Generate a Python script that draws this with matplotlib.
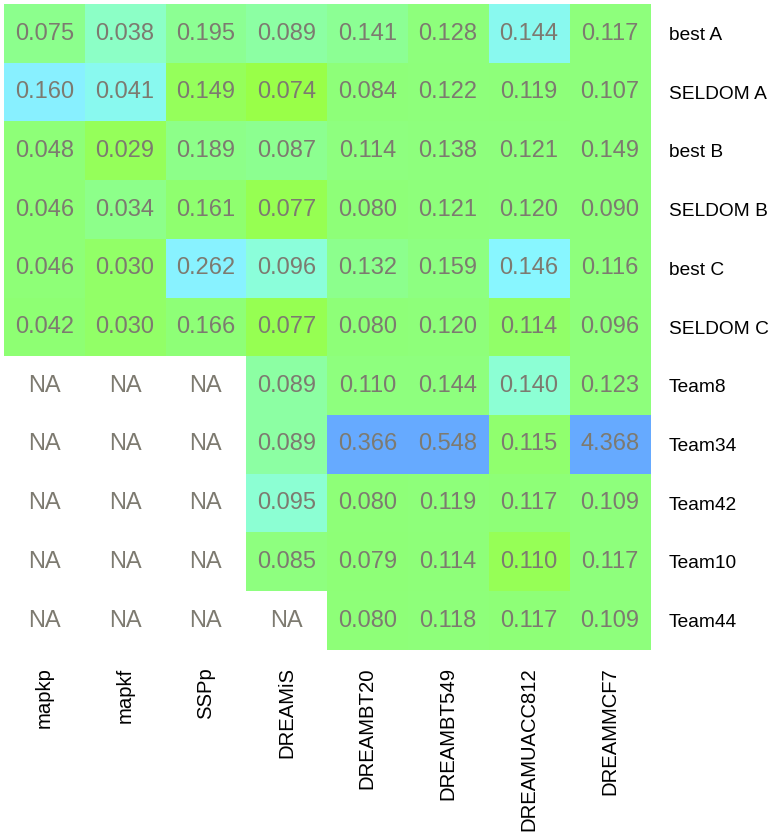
import numpy as np
import matplotlib
matplotlib.use("Agg")
import matplotlib.pyplot as plt
from matplotlib.colors import LinearSegmentedColormap

# Column and row names
cols = ["mapkp", "mapkf", "SSPp", "DREAMiS", "DREAMBT20", "DREAMBT549",
        "DREAMUACC812", "DREAMMCF7"]
rows = ["best A", "SELDOM A", "best B", "SELDOM B", "best C", "SELDOM C",
        "Team8", "Team34", "Team42", "Team10", "Team44"]

NA = np.nan
best_A   = [0.075, 0.038, 0.195, 0.089, 0.141, 0.128, 0.144, 0.117]
seldom_A = [0.160, 0.041, 0.149, 0.074, 0.084, 0.122, 0.119, 0.107]
best_B   = [0.048, 0.029, 0.189, 0.087, 0.114, 0.138, 0.121, 0.149]
seldom_B = [0.046, 0.034, 0.161, 0.077, 0.080, 0.121, 0.120, 0.090]
best_C   = [0.046, 0.030, 0.262, 0.096, 0.132, 0.159, 0.146, 0.116]
seldom_C = [0.042, 0.030, 0.166, 0.077, 0.080, 0.120, 0.114, 0.096]
team8    = [NA, NA, NA, 0.089, 0.110, 0.144, 0.140, 0.123]
team34   = [NA, NA, NA, 0.089, 0.366, 0.548, 0.115, 4.368]
team42   = [NA, NA, NA, 0.095, 0.080, 0.119, 0.117, 0.109]
team10   = [NA, NA, NA, 0.085, 0.079, 0.114, 0.110, 0.117]
team44   = [NA, NA, NA, NA, 0.080, 0.118, 0.117, 0.109]

vals = np.array([best_A, seldom_A, best_B, seldom_B, best_C, seldom_C,
                 team8, team34, team42, team10, team44])

# colour by z-score within each column
z = (vals - np.nanmean(vals, axis=0)) / np.nanstd(vals, axis=0)

zmin, zmax = -1.5, 3.0
nodes = [(-1.5, "#99ff48"), (-1.0, "#95ff5c"), (-0.6, "#8eff77"),
         (-0.1, "#8eff80"), (0.3, "#8cff99"), (0.9, "#8cffc4"),
         (1.4, "#8cffd8"), (1.8, "#88f6ff"), (2.3, "#88eeff"),
         (2.9, "#66aaff"), (3.0, "#66aaff")]
cmap = LinearSegmentedColormap.from_list(
    "gb", [((p - zmin) / (zmax - zmin), c) for p, c in nodes])
cmap.set_bad("white")

fig = plt.figure(figsize=(7.72, 8.38), dpi=100)
ax = fig.add_axes([0.005, 0.2244, 0.837, 0.7706])
ax.imshow(np.ma.masked_invalid(z), cmap=cmap, vmin=zmin, vmax=zmax,
          aspect="auto", interpolation="nearest")

for i in range(len(rows)):
    for j in range(len(cols)):
        v = vals[i, j]
        s = "NA" if np.isnan(v) else f"{v:.3f}"
        ax.text(j, i, s, ha="center", va="center", fontsize=17,
                color="#7d7a70", family="Liberation Sans")

ax.set_xticks(range(len(cols)))
ax.set_xticklabels(cols, rotation=90, fontsize=14.6, family="Liberation Sans")
ax.set_yticks(range(len(rows)))
ax.set_yticklabels(rows, fontsize=13.8, family="Liberation Sans")
ax.yaxis.tick_right()
ax.tick_params(axis="x", length=0, pad=12.5)
ax.tick_params(axis="y", length=0, pad=13.5)
for sp in ax.spines.values():
    sp.set_visible(False)

plt.savefig("out.png", dpi=100)
